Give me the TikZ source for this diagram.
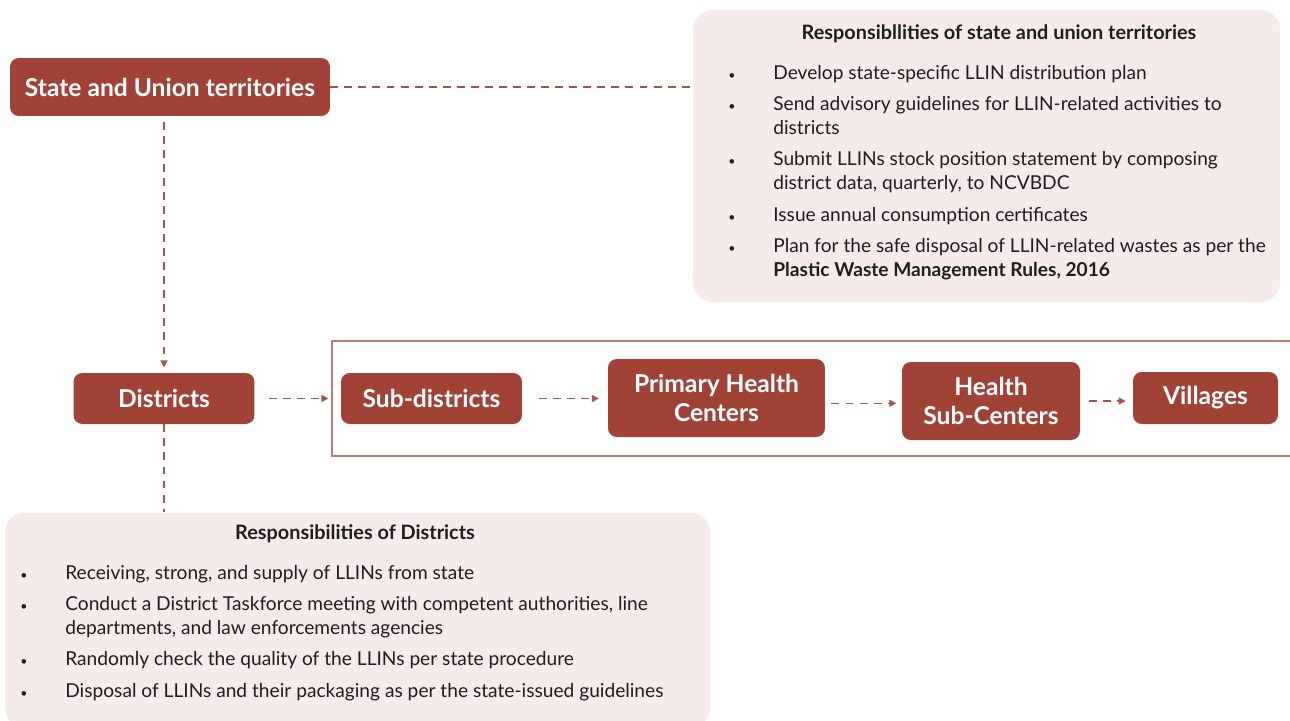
\documentclass[tikz,border=0pt]{standalone}
\usepackage{fontspec}
\setmainfont{Lato}
\usetikzlibrary{arrows.meta}

\definecolor{boxred}{HTML}{A14236}
\definecolor{linered}{HTML}{A0564E}
\definecolor{framered}{HTML}{B97A75}
\definecolor{resppink}{HTML}{F6EBEA}
\definecolor{textdark}{HTML}{1E1E1E}

\newcommand{\respitem}[1]{\par\hangindent=0.9cm\hangafter=1\noindent\makebox[0.9cm][l]{\scriptsize\textbullet}#1\par\vspace{4.2pt}}

\begin{document}
\begin{tikzpicture}[
        x=0.02cm, y=-0.02cm,
        box/.style={rectangle, rounded corners=5pt, fill=boxred, text=white, font=\fontsize{14}{16}\selectfont\bfseries, align=center, inner sep=0pt},
        respbox/.style={rectangle, rounded corners=11pt, fill=resppink, inner sep=0pt},
        resptitle/.style={text=textdark, font=\fontsize{11.3}{13}\selectfont\bfseries},
        resptext/.style={text=textdark, font=\fontsize{10.9}{13.6}\selectfont, inner sep=0pt, anchor=north west},
        link/.style={linered, line width=0.8pt, dash pattern=on 4.5pt off 3.5pt},
        tip/.style={-{Triangle[length=4pt, width=4pt]}},
    ]

        \useasboundingbox (0,0) rectangle (1290,720);

        \coordinate (c_state) at (170, 87);
        \coordinate (c_dist) at (164, 398.5);
        \coordinate (c_sub) at (431.5, 398.5);
        \coordinate (c_phc) at (716.5, 398);
        \coordinate (c_hsc) at (991, 401);
        \coordinate (c_vil) at (1205.5, 398);

        % responsibility panels
        \node[respbox, minimum width=11.74cm, minimum height=5.84cm] (sresp) at (986.5, 156) {};
        \node[respbox, minimum width=14.1cm, minimum height=4.3cm] (dresp) at (357.5, 620) {};

        \node[resptitle] (stitle) at (999, 34) {Responsibllities of state and union territories};
        \node[resptext] (sitems) at (728, 65) {\parbox{11.2cm}{\raggedright
            \respitem{Develop state-specific LLIN distribution plan}
            \respitem{Send advisory guidelines for LLIN-related activities to\newline districts}
            \respitem{Submit LLINs stock position statement by composing\newline district data, quarterly, to NCVBDC}
            \respitem{Issue annual consumption certificates}
            \respitem{Plan for the safe disposal of LLIN-related wastes as per the\newline \textbf{Plastic Waste Management Rules, 2016}}}};

        \node[resptitle] (dtitle) at (355, 534) {Responsibilities of Districts};
        \node[resptext] (ditems) at (20, 565) {\parbox{13.5cm}{\raggedright
            \respitem{Receiving, strong, and supply of LLINs from state}
            \respitem{Conduct a District Taskforce meeting with competent authorities, line\newline departments, and law enforcements agencies}
            \respitem{Randomly check the quality of the LLINs per state procedure}
            \respitem{Disposal of LLINs and their packaging as per the state-issued guidelines}}};

        % frame round the lower levels
        \draw[framered, line width=0.7pt] (1292, 341) -- (332, 341) -- (332, 456) -- (1292, 456);

        % levels
        \node[box, minimum width=6.4cm, minimum height=1.16cm] (state) at (c_state) {State and Union territories};
        \node[box, minimum width=3.62cm, minimum height=1.02cm] (dist) at (c_dist) {Districts};
        \node[box, minimum width=3.62cm, minimum height=1.02cm] (sub) at (c_sub) {Sub-districts};
        \node[box, minimum width=4.34cm, minimum height=1.56cm] (phc) at (c_phc) {Primary Health\\Centers};
        \node[box, minimum width=3.56cm, minimum height=1.56cm] (hsc) at (c_hsc) {Health\\Sub-Centers};
        \node[box, minimum width=2.9cm, minimum height=1.04cm] (vil) at (c_vil) {Villages};

        \draw[link] (state.east) -- (state.east -| sresp.west);
        \draw[link, tip, shorten <=3pt, shorten >=3pt] (dist.north |- state.south) -- (dist.north);
        \draw[link] (dist.south) -- (dist.south |- dresp.north);

        \draw[link, tip, shorten <=8pt, shorten >=7pt] (dist.east) -- (dist.east -| sub.west);
        \draw[link, tip, shorten <=9.5pt, shorten >=5pt] (sub.east) -- (sub.east -| phc.west);
        \draw[link, tip, shorten <=3.5pt, shorten >=3pt] ([yshift=-3pt]phc.east) -- ([yshift=-3pt]phc.east -| hsc.west);
        \draw[link, tip, shorten <=5pt, shorten >=4pt] (hsc.east) -- (hsc.east -| vil.west);
    \end{tikzpicture}
\end{document}
